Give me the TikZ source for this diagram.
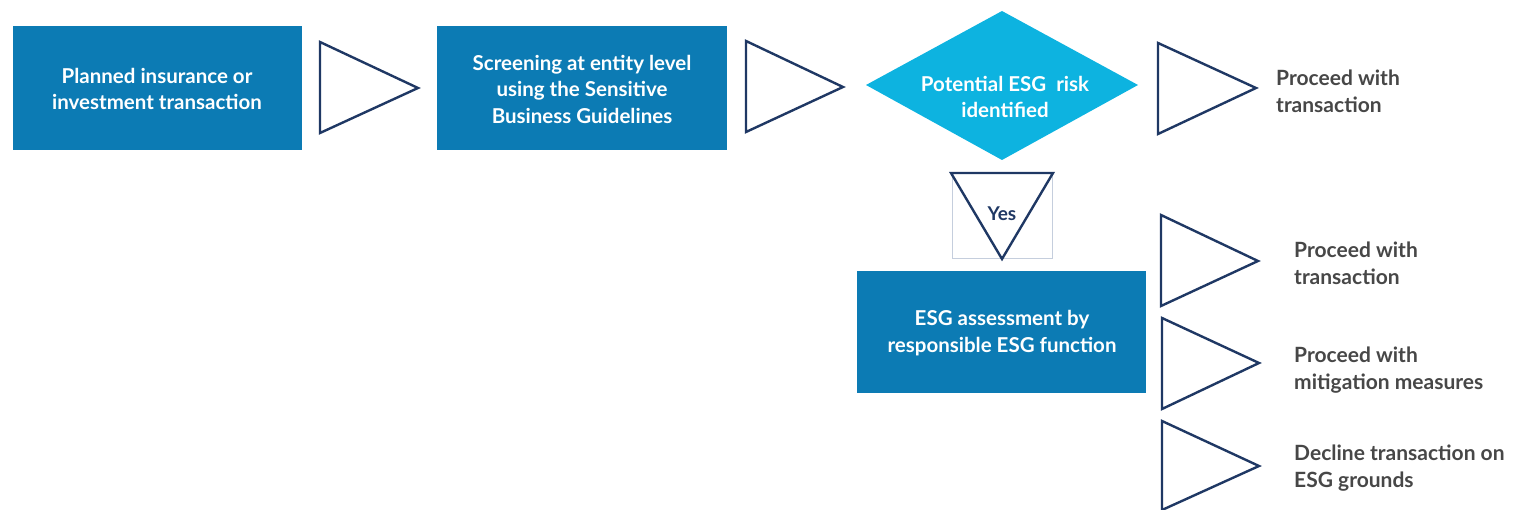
\documentclass[tikz,border=0pt]{standalone}
\usepackage{fontspec}
\setmainfont{Lato}
\usetikzlibrary{positioning}
\definecolor{boxblue}{HTML}{0C7BB4}
\definecolor{diablue}{HTML}{0DB3E0}
\definecolor{navy}{HTML}{1F3864}
\definecolor{txtgray}{HTML}{474747}
\definecolor{yesframe}{HTML}{C5CEDD}
\tikzset{
  procbox/.style={fill=boxblue, draw=none},
  boxtext/.style={text=white, align=center, font=\fontsize{20.5}{26.5}\selectfont\bfseries},
  arrowtri/.style={draw=navy, line width=2.4pt, fill=white, line join=miter},
  outtext/.style={text=txtgray, align=left, anchor=west, inner sep=0pt, font=\fontsize{21}{27}\selectfont\bfseries},
}
\begin{document}
\begin{tikzpicture}[x=1pt,y=-1pt]
\useasboundingbox (0,0) rectangle (1524,510);
% boxes
\fill[procbox] (13,26) rectangle (302,150);
\node[boxtext] (b1) at (157,89) {Planned insurance or\\investment transaction};
\fill[procbox] (437,26) rectangle (727,150);
\node[boxtext] (b2) at (582,89) {Screening at entity level\\using the Sensitive\\Business Guidelines};
% diamond
\fill[diablue] (866,85) -- (1002,11) -- (1138,85) -- (1002,160) -- cycle;
\node[boxtext] (d) at (1005,97) {Potential ESG\ \ risk\\identified};
% arrows
\draw[arrowtri] (320,42) -- (418,88) -- (320,133) -- cycle;
\draw[arrowtri] (746,41) -- (843,87) -- (746,132) -- cycle;
\draw[arrowtri] (1158,43) -- (1256,88) -- (1158,134) -- cycle;
\node[outtext] (o1) at (1276,91) {Proceed with\\transaction};
% yes
\draw[yesframe, line width=1pt] (952,173) rectangle (1052,259);
\draw[arrowtri] (951,173) -- (1053,173) -- (1002,259) -- cycle;
\node[text=navy, font=\fontsize{19}{22}\selectfont\bfseries] (yes) at (1002,214) {Yes};
% assessment
\fill[procbox] (857,271) rectangle (1146,393);
\node[boxtext] (b3) at (1002,333) {ESG assessment by\\responsible ESG function};
% outcomes
\draw[arrowtri] (1161,215) -- (1258,261) -- (1161,306) -- cycle;
\node[outtext] (o2) at (1294,263) {Proceed with\\transaction};
\draw[arrowtri] (1162,318) -- (1259,363) -- (1162,409) -- cycle;
\node[outtext] (o3) at (1294,370) {Proceed with\\mitigation measures};
\draw[arrowtri] (1162,421) -- (1259,466) -- (1162,510) -- cycle;
\node[outtext] (o4) at (1294,468) {Decline transaction on\\ESG grounds};
\end{tikzpicture}
\end{document}
